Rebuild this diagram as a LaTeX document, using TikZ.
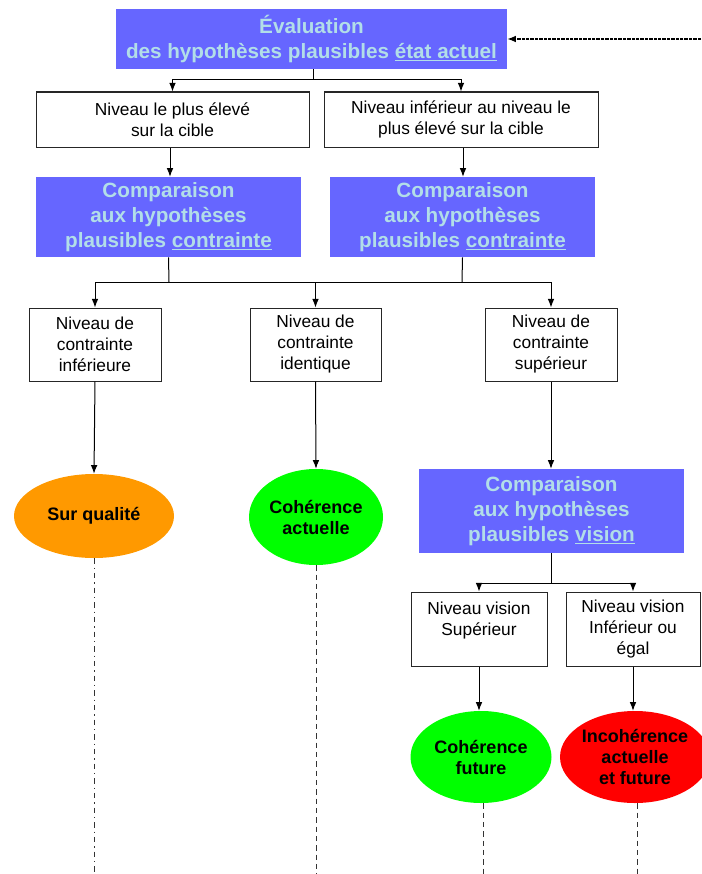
\documentclass[tikz,border=0pt]{standalone}
\usepackage{fontspec}
\setmainfont{Liberation Sans}
\usetikzlibrary{arrows.meta,shapes.geometric}
\definecolor{hypblue}{RGB}{102,102,255}
\definecolor{hyptext}{RGB}{178,222,232}
\definecolor{surq}{RGB}{255,153,0}
\definecolor{coh}{RGB}{0,255,0}
\definecolor{incoh}{RGB}{255,0,0}
\tikzset{
  hyp/.style={rectangle, fill=hypblue, text=hyptext, align=center,
    font=\bfseries\fontsize{15.5}{18.75}\selectfont, inner sep=0pt},
  lvl/.style={rectangle, draw=black!85, line width=0.75pt, fill=white, align=center,
    font=\fontsize{13}{15.75}\selectfont, inner sep=0pt},
  res/.style={ellipse, align=center, inner sep=0pt,
    font=\bfseries\fontsize{13.5}{15.75}\selectfont},
  flow/.style={draw=black, line width=0.75pt, -{Latex[length=6.5pt,width=5pt]}},
  link/.style={draw=black, line width=0.75pt},
  trail/.style={draw=black!80, line width=0.75pt, dashed, dash pattern=on 4pt off 3pt},
}
\begin{document}
\begin{tikzpicture}[x=0.75pt,y=-0.75pt]
\useasboundingbox (0,0) rectangle (701,874);

% first assessment
\node[hyp, minimum width=391*0.75pt, minimum height=60*0.75pt] (eval) at (311.5,39)
  {Évaluation\\des hypothèses plausibles \underline{état actuel}};
\coordinate (back) at (701,39);
\draw[flow, line width=0.9pt, dashed, dash pattern=on 2.5pt off 0.8pt] (back) -- (eval.east);

% levels with respect to the target
\node[lvl, minimum width=273*0.75pt, minimum height=55*0.75pt] (n1) at (172.5,119.5)
  {Niveau le plus élevé\\sur la cible};
\node[lvl, minimum width=274*0.75pt, minimum height=55*0.75pt] (n2) at (461,119.5)
  {Niveau inférieur au niveau le\\plus élevé sur la cible};
\coordinate (j0) at (313,80);
\draw[link] (eval.south -| j0) -- (j0);
\draw[flow] (j0) -| (n1.north);
\draw[flow] (j0) -| (n2.north);

% constraint comparisons
\node[hyp, minimum width=265*0.75pt, minimum height=80*0.75pt] (c1) at (168.5,217)
  {Comparaison\\aux hypothèses\\plausibles \underline{contrainte}};
\node[hyp, minimum width=265*0.75pt, minimum height=80*0.75pt] (c2) at (462.5,217)
  {Comparaison\\aux hypothèses\\plausibles \underline{contrainte}};
\coordinate (a1) at (170,0);
\coordinate (a2) at (463,0);
\draw[flow] (n1.south -| a1) -- (c1.north -| a1);
\draw[flow] (n2.south -| a2) -- (c2.north -| a2);

% constraint levels
\node[lvl, minimum width=132*0.75pt, minimum height=73*0.75pt] (d1) at (95,344.5)
  {Niveau de\\contrainte\\inférieure};
\node[lvl, minimum width=131*0.75pt, minimum height=73*0.75pt] (d2) at (315.5,344.5)
  {Niveau de\\contrainte\\identique};
\node[lvl, minimum width=132*0.75pt, minimum height=73*0.75pt] (d3) at (551,344.5)
  {Niveau de\\contrainte\\supérieur};
\coordinate (j1) at (169,282);
\coordinate (j2) at (462,282);
\draw[link] (c1.south) -- (j1);
\draw[link] (c2.south) -- (j2);
\draw[link] (j1) -- (j2);
\draw[flow] (j1) -| (d1.north);
\draw[flow] (j1) -| (d2.north);
\draw[flow] (j2) -| (d3.north);

% outcomes of the constraint comparison
\node[res, fill=surq, minimum width=160*0.75pt, minimum height=84*0.75pt] (e1) at (94,516)
  {Sur qualité};
\node[res, fill=coh, minimum width=134*0.75pt, minimum height=96*0.75pt] (e2) at (316,517)
  {Cohérence\\actuelle};
\node[hyp, minimum width=265*0.75pt, minimum height=84*0.75pt] (v) at (551.5,511)
  {Comparaison\\aux hypothèses\\plausibles \underline{vision}};
\draw[flow] (d1.south) -- (e1.north);
\draw[flow] (d2.south) -- (e2.north);
\draw[flow] (d3.south) -- (v.north -| d3.south);

% vision levels
\node[lvl, minimum width=136*0.75pt, minimum height=74*0.75pt] (f1) at (479,629)
  {Niveau vision\\Supérieur\\~};
\node[lvl, minimum width=134*0.75pt, minimum height=74*0.75pt] (f2) at (633,629)
  {Niveau vision\\Inférieur ou\\égal};
\coordinate (j3) at (551,583);
\draw[link] (v.south -| j3) -- (j3);
\draw[flow] (j3) -| (f1.north);
\draw[flow] (j3) -| (f2.north);

% outcomes of the vision comparison
\node[res, fill=coh, minimum width=141*0.75pt, minimum height=92*0.75pt] (g1) at (481,757)
  {Cohérence\\future};
\node[res, fill=incoh, minimum width=138*0.75pt, minimum height=92*0.75pt] (g2) at (635,757)
  {Incohérence\\actuelle\\et future};
\draw[flow] (f1.south) -- (f1.south |- g1.north);
\draw[flow] (f2.south) -- (f2.south |- g2.north);

% trailing lines
\coordinate (t1) at (94,874);
\coordinate (t2) at (316,874);
\coordinate (t3) at (483,874);
\coordinate (t4) at (637,874);
\draw[draw=black!80, line width=0.75pt, dash pattern=on 4pt off 3pt on 1pt off 3pt] (e1.south) -- (t1);
\draw[trail] (e2.south) -- (t2);
\draw[trail] (g1.south -| t3) -- (t3);
\draw[trail] (g2.south -| t4) -- (t4);
\end{tikzpicture}
\end{document}
